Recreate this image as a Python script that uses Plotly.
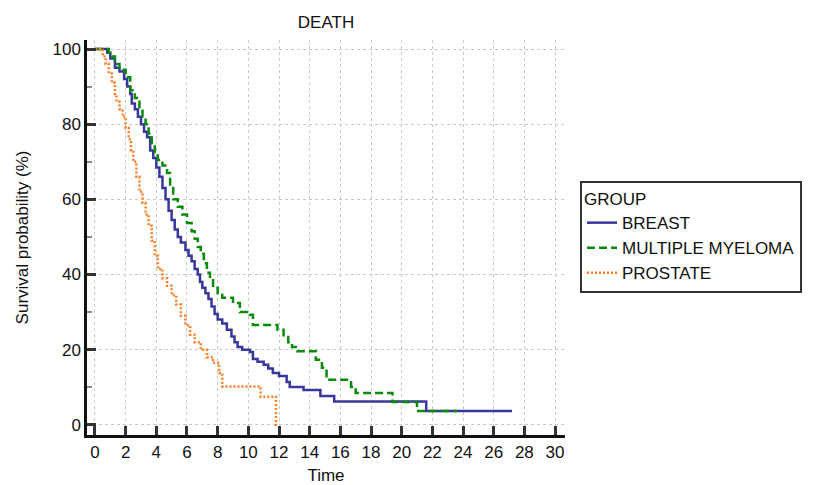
import plotly.graph_objects as go

# Kaplan-Meier step data (time, survival %)
breast_t = [0, 0.8, 1.0, 1.3, 1.6, 1.9, 2.1, 2.3, 2.4, 2.6, 2.8, 3.0, 3.2, 3.4, 3.6, 3.8, 4.0, 4.2,
            4.4, 4.6, 4.8, 5.0, 5.2, 5.4, 5.6, 5.9, 6.1, 6.3, 6.5, 6.7, 6.85, 7.0, 7.2, 7.4, 7.6,
            7.8, 8.0, 8.3, 8.6, 8.9, 9.1, 9.3, 9.6, 10.1, 10.3, 10.6, 11.0, 11.3, 11.6, 12.0, 12.5,
            12.7, 13.6, 14.7, 15.6, 21.6, 27.2]
breast_s = [100, 99, 97.5, 95, 94, 92, 90, 88, 85.5, 84, 82, 80, 78, 76.5, 73, 71, 68.5, 66,
            63, 60, 57, 54.5, 52, 50, 48.5, 46.5, 45, 43.5, 41.5, 40, 38, 36.5, 35, 33.5, 31.5,
            29.5, 28, 27, 25.3, 23.5, 22, 20.7, 20, 19.4, 17.5, 16.8, 16, 15, 13.8, 13, 11.4,
            10.1, 9.3, 7.7, 6.2, 3.7, 3.7]

mm_t = [0, 0.9, 1.1, 1.3, 1.6, 2.0, 2.3, 2.6, 2.9, 3.1, 3.3, 3.5, 3.7, 3.9, 4.1, 4.4, 4.7, 4.9,
        5.1, 5.4, 5.7, 6.0, 6.3, 6.5, 6.7, 6.9, 7.1, 7.3, 7.5, 7.7, 8.0, 8.3, 9.0, 9.45, 10.1,
        10.3, 11.9, 12.3, 12.6, 12.85, 13.2, 14.4, 14.8, 15.1, 16.7, 17.0, 19.4, 21.0, 23.6]
mm_s = [100, 99, 98, 96, 94.5, 92.5, 89, 87, 84.5, 82, 80, 77.5, 75, 72.5, 70.5, 69, 67, 63.5,
        60, 58, 56, 53.7, 51.5, 49.5, 47.3, 45.5, 43, 40.5, 38.5, 36.5, 35, 33.8, 32.4, 30, 29.3,
        26.6, 25.3, 23.4, 22, 20.7, 19.6, 17.3, 15.2, 12, 10.1, 8.5, 6.1, 3.7, 3.7]

prostate_t = [0, 0.5, 0.7, 0.9, 1.1, 1.3, 1.4, 1.6, 1.8, 2.0, 2.2, 2.35, 2.5, 2.7, 2.9, 3.1,
              3.3, 3.5, 3.7, 3.9, 4.1, 4.4, 4.7, 5.0, 5.3, 5.6, 5.9, 6.2, 6.5, 6.9, 7.3, 7.7,
              8.1, 8.3, 10.8, 11.8, 12.0]
prostate_s = [100, 98, 96, 93.5, 91, 88, 86, 84, 82, 79, 76, 73, 70, 66, 62, 59, 56, 53, 49,
              45, 41.5, 39, 37, 34.5, 32, 29, 26.5, 24, 22, 20, 18, 16.5, 13.8, 10.2, 7.5, 0, 0]

x_ticks = list(range(0, 31, 2))
y_ticks = [0, 20, 40, 60, 80, 100]

FONT = "Liberation Sans, Arial, sans-serif"
FS = 17

fig = go.Figure()
fig.add_trace(go.Scatter(x=breast_t, y=breast_s, mode="lines", name="BREAST",
                         line=dict(color="#38389c", width=2.5, shape="hv")))
fig.add_trace(go.Scatter(x=mm_t, y=mm_s, mode="lines", name="MULTIPLE MYELOMA",
                         line=dict(color="#0a8a0a", width=2.5, shape="hv", dash="8px,4px")))
fig.add_trace(go.Scatter(x=prostate_t, y=prostate_s, mode="lines", name="PROSTATE",
                         line=dict(color="#ff7f27", width=2.5, shape="hv", dash="2px,2px")))

axis_common = dict(
    showline=True, linecolor="#111111", linewidth=2.5, mirror=False,
    ticks="inside", ticklen=9, tickwidth=2.5, tickcolor="#333333",
    showgrid=True, gridcolor="#c8c8c8", gridwidth=1, griddash="dot",
    zeroline=False, tickfont=dict(family=FONT, size=FS, color="#111111"),
    automargin=False,
)

fig.update_layout(
    width=835, height=485,
    margin=dict(l=87, r=270, t=40, b=50),
    paper_bgcolor="white", plot_bgcolor="white",
    font=dict(family=FONT, size=FS, color="#111111"),
    title=dict(text="DEATH", x=(87 + 565) / 2 / 835, xanchor="center",
               y=1 - 22 / 485, yanchor="middle", yref="container",
               font=dict(family=FONT, size=FS, color="#111111")),
    xaxis=dict(range=[-0.52, 30.65], tickvals=x_ticks,
               title=dict(text="Time", font=dict(family=FONT, size=FS), standoff=12),
               **axis_common),
    yaxis=dict(range=[-2.7, 102.4], tickvals=y_ticks,
               title=dict(text="Survival probability (%)", font=dict(family=FONT, size=FS),
                          standoff=20),
               minor=dict(dtick=10, ticks="inside", ticklen=5, tickwidth=1.5,
                          tickcolor="#888888", showgrid=False),
               **axis_common),
    legend=dict(
        title=dict(text="GROUP", font=dict(family=FONT, size=FS, color="#111111")),
        font=dict(family=FONT, size=FS, color="#111111"),
        x=(580 - 87) / 478, xanchor="left", y=(435 - 237) / 395, yanchor="middle",
        bordercolor="#333333", borderwidth=2, bgcolor="white",
        tracegroupgap=0,
    ),
    showlegend=True,
)

fig.write_html("out.html")
